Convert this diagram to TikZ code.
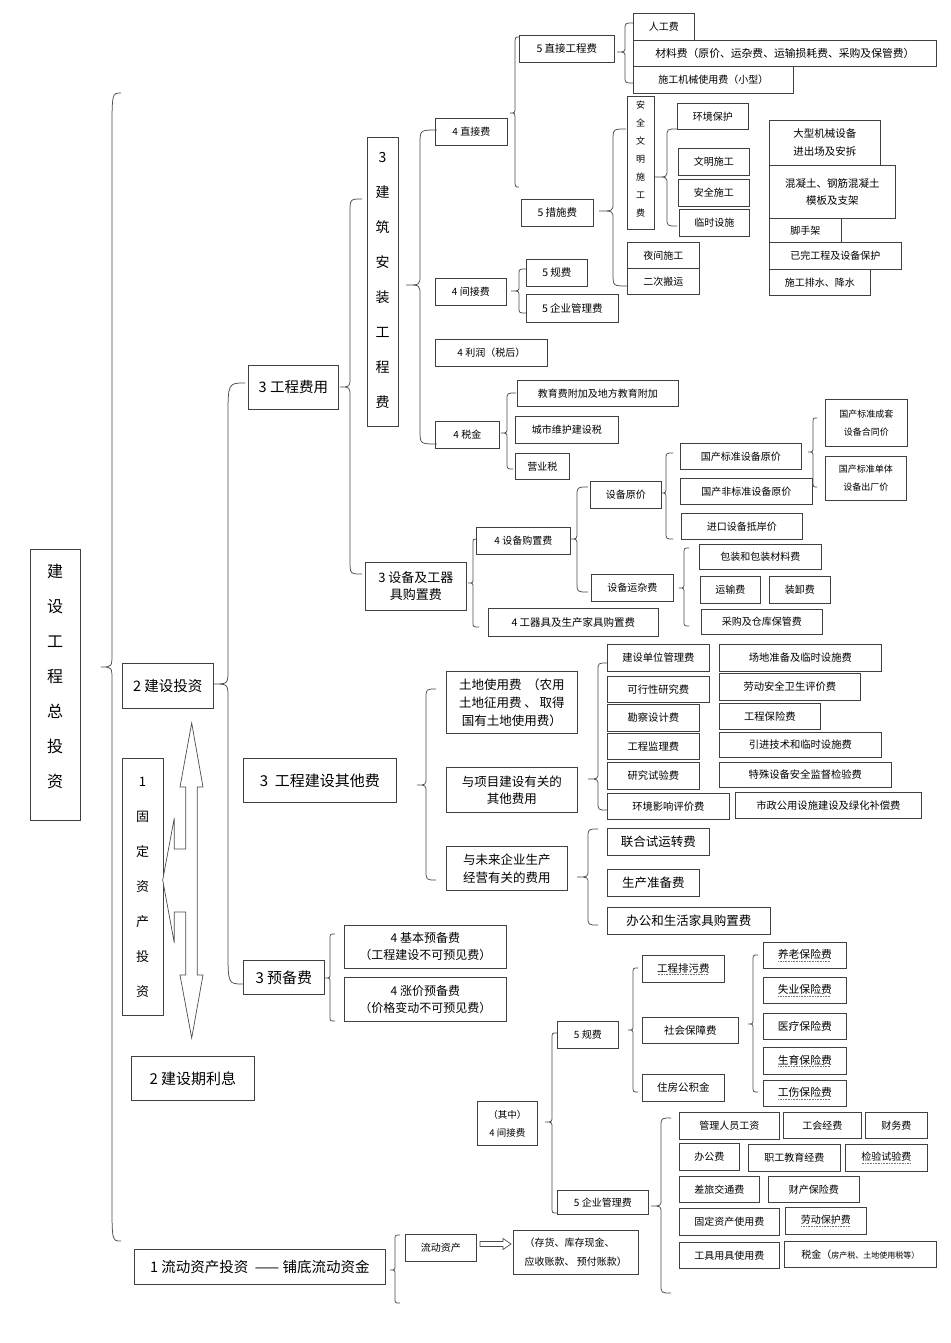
\documentclass[tikz,border=0pt]{standalone}
\usepackage{fontspec}
\setmainfont{Noto Sans CJK SC}
\newcommand\fs[2]{\fontsize{#1}{#2}\selectfont}
\newcommand\du[1]{\setbox0\hbox{#1}\leavevmode\rlap{\copy0}\raisebox{-2.5pt}{\hbox to \wd0{\color{black!55}\leaders\hbox to 1.6pt{\hss\rule{0.8pt}{0.5pt}\hss}\hfill}}}
\tikzset{
  bx/.style={draw=black!75, line width=0.7pt, inner sep=1pt, align=center, font=\fs{10}{13}},
  brc/.style={draw=black!70, line width=0.75pt},
  hollow/.style={draw=black!70, line width=0.7pt, fill=white, line join=miter},
  vt/.style={inner sep=0pt, align=center},
}
% box: [opts]{name}{x,y of top-left}{width}{height}{text}
\newcommand\B[6][]{\node[bx,anchor=north west,minimum width=#4,minimum height=#5,#1] (#2) at (#3) {#6};}
% brace: [end radius]{spine x}{top x}{top y}{tip x}{tip y}{bottom x}{bottom y}{tip radius}
\newcommand\Br[9][8]{\draw[brc] (#3,#4) .. controls (#2,#4) .. (#2,#4+#1) -- (#2,#6-#9) .. controls (#2,#6) .. (#5,#6) .. controls (#2,#6) .. (#2,#6+#9) -- (#2,#8-#1) .. controls (#2,#8) .. (#7,#8);}
\begin{document}
\begin{tikzpicture}[x=1pt,y=-1pt]
\fill[white] (0,0) rectangle (950,1343);
\useasboundingbox (0,0) rectangle (950,1343);

% ---------- level 1 / 2 ----------
\node[bx,anchor=north west,minimum width=50,minimum height=271] (root) at (30,549) {};
\node[vt,font=\fs{16}{35}] (roott) at (55,676) {建\\设\\工\\程\\总\\投\\资};
\B[font=\fs{14.5}{18}]{jstz}{122,663}{91}{45}{2 建设投资}
\node[bx,anchor=north west,minimum width=41,minimum height=257] (gdzc) at (122,758) {};
\node[vt,font=\fs{13}{35}] (gdzct) at (142.5,887) {1\\固\\定\\资\\产\\投\\资};
\B[font=\fs{15}{18}]{jsql}{131,1056}{123}{44}{2 建设期利息}
\B[font=\fs{14.5}{18}]{ldtz}{134,1249}{251}{35}{1 流动资产投资 \ —— 铺底流动资金}

% double arrow with pointer
\draw[hollow] (191.7,723) -- (203,787) -- (197.3,787) -- (197.3,975) -- (203,975) -- (191.7,1038)
  -- (180,975) -- (185.7,975) -- (185.7,912) -- (174.3,912) -- (174.3,943) -- (162.7,880)
  -- (174.3,818) -- (174.3,849) -- (185.7,849) -- (185.7,787) -- (180,787) -- cycle;

% ---------- level 3 ----------
\B[font=\fs{14.5}{18}]{gcfy}{248,365}{90}{44}{3 工程费用}
\B[font=\fs{15}{18}]{qtf}{243,758}{153}{44}{3\ \ 工程建设其他费}
\B[font=\fs{15}{18}]{ybf}{243,960}{81}{34}{3 预备费}
\node[bx,anchor=north west,minimum width=31,minimum height=289] (jzaz) at (367,137) {};
\node[vt,font=\fs{14}{35}] (jzazt) at (382.5,280) {3\\建\\筑\\安\\装\\工\\程\\费};
\B[font=\fs{13}{17}]{sbgq}{365,562}{101}{48}{3 设备及工器\\具购置费}

% ---------- 建筑安装工程费 ----------
\B{zjf}{435,118}{72}{27}{4 直接费}
\B{jjf}{435,278}{71}{27}{4 间接费}
\B{lr}{435,339}{112}{27}{4 利润（税后）}
\B{sj}{435,421}{64}{27}{4 税金}
\B[font=\fs{10.5}{13}]{zjgc}{519,35}{95}{27}{5 直接工程费}
\B[font=\fs{10.5}{13}]{csf}{521,199}{72}{27}{5 措施费}
\B[font=\fs{10.5}{13}]{gf}{526,259}{61}{27}{5 规费}
\B[font=\fs{10.5}{13}]{qygl}{526,294}{92}{28}{5 企业管理费}
\B{rgf}{633,13}{61}{27}{人工费}
\B[font=\fs{10.8}{13}]{clf}{633,40}{303}{26}{材料费（原价、运杂费、运输损耗费、采购及保管费）}
\B{jxf}{633,66}{160}{27}{施工机械使用费（小型）}
\node[bx,anchor=north west,minimum width=27,minimum height=133] (aqwm) at (627,96) {};
\node[vt,font=\fs{9}{18}] (aqwmt) at (640.5,159) {安\\全\\文\\明\\施\\工\\费};
\B{hjbh}{677,103}{71}{26}{环境保护}
\B{wmsg}{678,148}{71}{27}{文明施工}
\B{aqsg}{678,179}{71}{27}{安全施工}
\B{lssh}{679,209}{70}{27}{临时设施}
\B[font=\fs{10.5}{18}]{dxjx}{769,120}{111}{45}{大型机械设备\\进出场及安拆}
\B[font=\fs{10.5}{17}]{hnt}{769,165}{126}{53}{混凝土、钢筋混凝土\\模板及支架}
\B{jsj}{769,218}{72}{24}{脚手架}
\B{ywgc}{769,242}{132}{27}{已完工程及设备保护}
\B{sgps}{769,269}{101}{26}{施工排水、降水}
\B{yjsg}{627,242}{72}{26}{夜间施工}
\B{ecby}{627,268}{72}{26}{二次搬运}
\B{jyf}{517,380}{161}{26}{教育费附加及地方教育附加}
\B{cswh}{515,416}{103}{27}{城市维护建设税}
\B{yys}{515,453}{54}{26}{营业税}

% ---------- 设备及工器具购置费 ----------
\B{sbgz}{476,527}{94}{27}{4 设备购置费}
\B[font=\fs{10.5}{13}]{gqj}{488,608}{170}{28}{4 工器具及生产家具购置费}
\B{sbyj}{590,481}{71}{27}{设备原价}
\B{sbyz}{591,574}{82}{27}{设备运杂费}
\B{gcbz}{680,443}{121}{26}{国产标准设备原价}
\B{gcfbz}{680,478}{132}{26}{国产非标准设备原价}
\B{jksb}{681,513}{121}{26}{进口设备抵岸价}
\B[font=\fs{9}{18}]{cths}{825,399}{82}{47}{国产标准成套\\设备合同价}
\B[font=\fs{9}{18}]{dtcc}{825,456}{81}{44}{国产标准单体\\设备出厂价}
\B{bzcl}{699,544}{122}{25}{包装和包装材料费}
\B{ysf}{700,576}{60}{27}{运输费}
\B{zxf}{769,576}{61}{27}{装卸费}
\B{cgbg}{701,609}{121}{25}{采购及仓库保管费}

% ---------- 工程建设其他费 ----------
\B[font=\fs{12.5}{18}]{tdsy}{446,671}{131}{62}{土地使用费 \ （农用\\土地征用费 、 取得\\国有土地使用费）}
\B[font=\fs{12.5}{17}]{xmjs}{446,767}{131}{45}{与项目建设有关的\\其他费用}
\B[font=\fs{12.5}{18}]{wlqy}{446,846}{121}{44}{与未来企业生产\\经营有关的费用}
\B[font=\fs{10.3}{13}]{jsdw}{607,644}{102}{27}{建设单位管理费}
\B[font=\fs{10.3}{13}]{kxx}{607,676}{102}{26}{可行性研究费}
\B[font=\fs{10.3}{13}]{kcsj}{607,704}{92}{27}{勘察设计费}
\B[font=\fs{10.3}{13}]{gcjl}{607,733}{92}{26}{工程监理费}
\B[font=\fs{10.3}{13}]{yjsy}{607,762}{92}{27}{研究试验费}
\B[font=\fs{10.3}{13}]{hjyx}{607,793}{122}{26}{环境影响评价费}
\B[font=\fs{10.3}{13}]{cdzb}{719,644}{162}{27}{场地准备及临时设施费}
\B[font=\fs{10.3}{13}]{ldaq}{719,673}{141}{27}{劳动安全卫生评价费}
\B[font=\fs{10.3}{13}]{gcbx}{719,703}{101}{26}{工程保险费}
\B[font=\fs{10.3}{13}]{yjjs}{719,732}{162}{25}{引进技术和临时设施费}
\B[font=\fs{10.3}{13}]{tssb}{719,762}{172}{25}{特殊设备安全监督检验费}
\B[font=\fs{10.3}{13}]{szgy}{735,792}{186}{26}{市政公用设施建设及绿化补偿费}
\B[font=\fs{12.5}{15}]{lhsy}{607,828}{102}{27}{联合试运转费}
\B[font=\fs{12.5}{15}]{sczb}{607,869}{92}{27}{生产准备费}
\B[font=\fs{12.5}{15}]{bgsh}{607,907}{163}{27}{办公和生活家具购置费}

% ---------- 预备费 ----------
\B[font=\fs{12}{17}]{jbyb}{344,925}{162}{43}{4 基本预备费\\（工程建设不可预见费）}
\B[font=\fs{12}{17}]{zjyb}{344,977}{162}{44}{4 涨价预备费\\（价格变动不可预见费）}

% ---------- 间接费 (bottom) ----------
\B[font=\fs{9.5}{18}]{qzjj}{477,1101}{60}{44}{（其中）\\4 间接费}
\B{gf2}{557,1021}{61}{27}{5 规费}
\B[font=\fs{10.5}{13}]{gcpw}{642,955}{82}{27}{\du{工程排污费}}
\B[font=\fs{10.5}{13}]{shbz}{642,1017}{96}{26}{社会保障费}
\B[font=\fs{10.5}{13}]{zfgj}{642,1074}{82}{27}{住房公积金}
\B[font=\fs{10.8}{13}]{ylbx}{763,942}{83}{26}{\du{养老保险费}}
\B[font=\fs{10.8}{13}]{sybx}{763,977}{83}{26}{\du{失业保险费}}
\B[font=\fs{10.8}{13}]{yl2bx}{763,1013}{83}{26}{医疗保险费}
\B[font=\fs{10.8}{13}]{syu2bx}{763,1047}{83}{27}{\du{生育保险费}}
\B[font=\fs{10.8}{13}]{gsbx}{763,1080}{83}{26}{\du{工伤保险费}}
\B{qygl2}{557,1190}{91}{24}{5 企业管理费}
\B{glry}{679,1112}{100}{27}{管理人员工资}
\B{ghjf}{783,1112}{78}{26}{工会经费}
\B{cwf}{865,1112}{62}{26}{财务费}
\B{bgf}{679,1143}{60}{27}{办公费}
\B{zgjy}{748,1144}{92}{27}{职工教育经费}
\B{jysy}{845,1144}{82}{27}{\du{检验试验费}}
\B{cljt}{679,1176}{80}{26}{差旅交通费}
\B{ccbx}{768,1176}{91}{26}{财产保险费}
\B{gdzcsy}{679,1208}{100}{27}{固定资产使用费}
\B{ldbh}{785,1207}{81}{27}{\du{劳动保护费}}
\B{gjyj}{679,1242}{100}{26}{工具用具使用费}
\B{sj2}{784,1241}{152}{26}{税金（{\fs{8}{10}房产税、土地使用税等）}}
\B{ldzc}{405,1234}{71}{27}{流动资产}
\B[font=\fs{10}{19},align=left]{chqx}{513,1230}{125}{44}{（存货、库存现金、\\应收账款、 预付账款）}

% hollow arrow 流动资产 -> 存货
\draw[hollow] (480,1241.5) -- (503,1241.5) -- (503,1238.5) -- (511,1244) -- (503,1249.5) -- (503,1246.5) -- (480,1246.5) -- cycle;

% ---------- braces ----------
\Br[40]{112}{121}{93}{101}{667}{121}{1241}{14}
\Br[35]{228}{245}{383}{213}{684}{243}{984}{14}
\Br[14]{350}{362}{199}{340}{387}{362}{574}{10}
\Br[14]{420}{437}{130}{406}{285}{437}{444}{10}
\Br[8]{515}{519}{37}{510}{113}{519}{187}{6}
\Br[7]{625}{633}{23}{617}{52}{633}{83}{6}
\Br[12]{613}{626}{129}{599}{211}{628}{286}{8}
\Br[8]{667}{677}{129}{655}{177}{677}{226}{7}
\Br[6]{519}{526}{269}{511}{291}{526}{313}{5}
\Br[7]{507}{516}{393}{501}{433}{513}{469}{6}
\Br[6]{813}{817}{418}{808}{452}{817}{487}{5}
\Br[7]{666}{673}{453}{661}{493}{673}{539}{6}
\Br[9]{577}{588}{487}{570}{539}{588}{592}{7}
\Br[6]{684}{689}{548}{679}{588}{689}{626}{5}
\Br[5]{473}{476}{539}{468}{583}{479}{627}{5}
\Br[10]{426}{436}{689}{417}{785}{436}{880}{8}
\Br[8]{598}{607}{663}{588}{779}{607}{810}{7}
\Br[9]{588}{598}{829}{577}{877}{598}{925}{7}
\Br[5]{330}{335}{934}{325}{978}{335}{1021}{5}
\Br[6]{633}{638}{968}{628}{1030}{638}{1092}{5}
\Br[6]{753}{758}{955}{748}{1024}{758}{1092}{5}
\Br[6]{552}{557}{1033}{545}{1122}{557}{1213}{6}
\Br[9]{661}{671}{1118}{651}{1206}{671}{1293}{7}
\Br[5]{395}{400}{1235}{390}{1270}{400}{1303}{5}
\end{tikzpicture}
\end{document}
